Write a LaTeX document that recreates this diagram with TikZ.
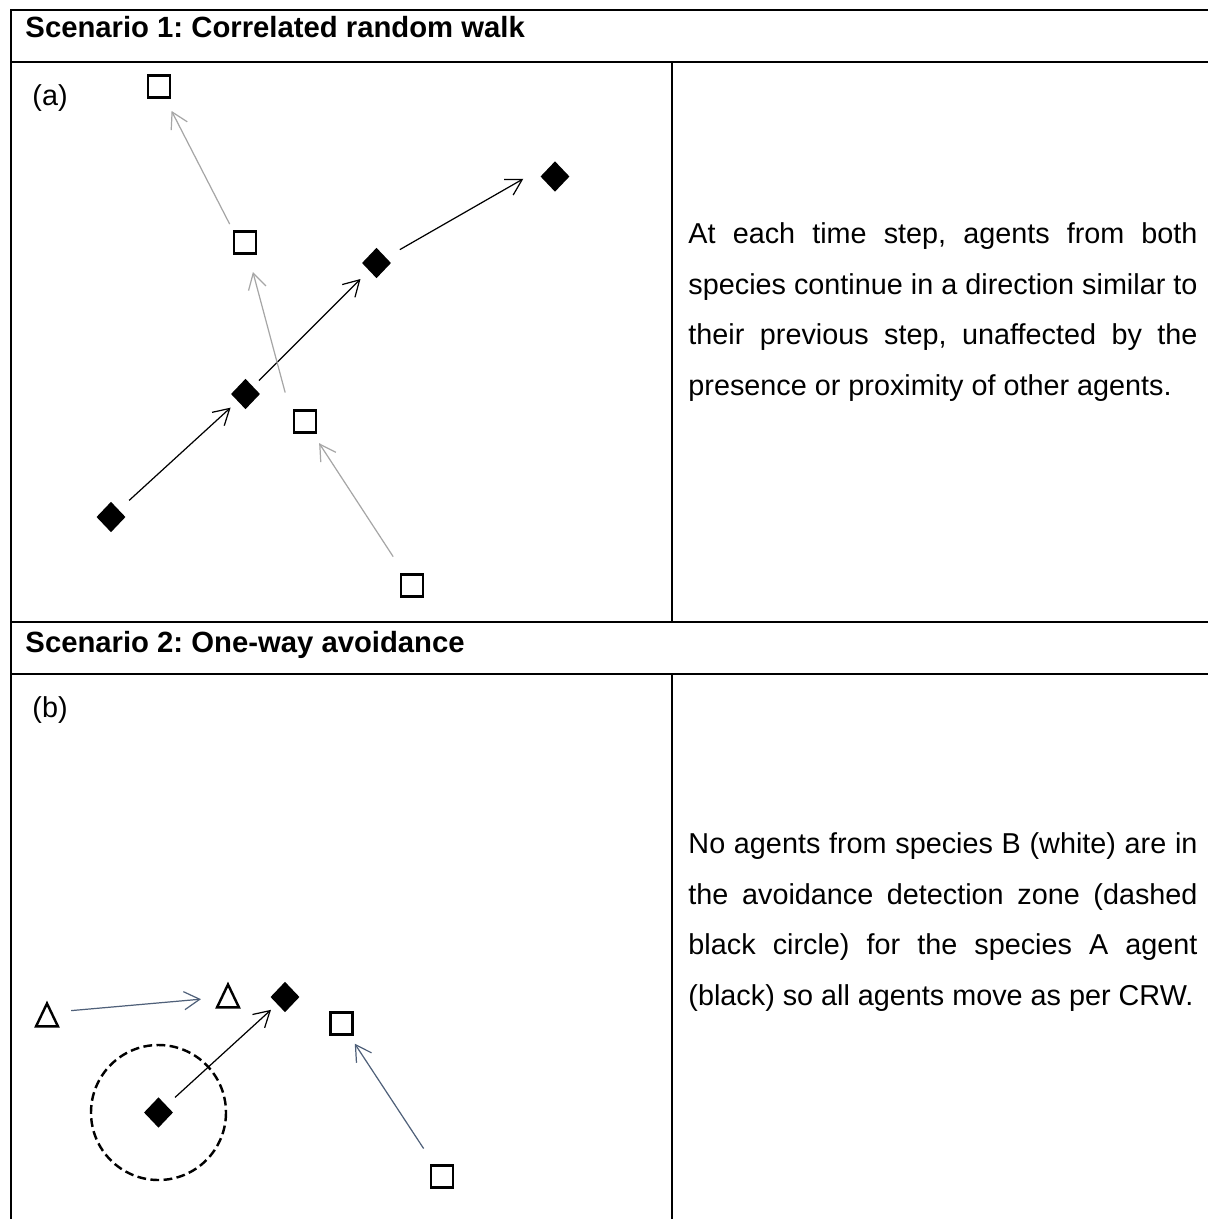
\documentclass[tikz,border=0pt]{standalone}
\usepackage{fontspec}
\setmainfont{Liberation Sans}
\usepackage{tikz}
\usetikzlibrary{arrows.meta,positioning,shapes.geometric}
\definecolor{TableInk}{gray}{0}
\definecolor{TrackGrey}{HTML}{A6A6A6}
\definecolor{TrackSlate}{HTML}{4F6079}
\frenchspacing

\begin{document}
\begin{tikzpicture}[
  x=0.41pt,y=-0.41pt,
  >={Straight Barb[length=6.4pt,width=7.4pt]},
  rule/.style={draw=TableInk,line width=0.9pt},
  headtext/.style={anchor=base west,inner sep=0pt,font=\bfseries\fontsize{12}{14}\selectfont},
  paneltag/.style={anchor=base west,inner sep=0pt,font=\fontsize{11.8}{14}\selectfont},
  bodytext/.style={anchor=base west,inner sep=0pt,text width=208.7pt,align=justify,
                   font=\fontsize{11.8}{20.8}\selectfont},
  agentA/.style={diamond,fill=black,inner sep=0pt,minimum width=12pt,minimum height=12.6pt},
  agentB/.style={draw=black,line width=1pt,inner sep=0pt,minimum size=8.9pt},
  agentC/.style={isosceles triangle,isosceles triangle stretches,shape border rotate=90,
                 draw=black,line width=1pt,inner sep=0pt,minimum width=9pt,minimum height=9.4pt},
  stepA/.style={->,black,line width=0.5pt},
  stepGrey/.style={->,TrackGrey,line width=0.5pt},
  stepSlate/.style={->,TrackSlate,line width=0.5pt},
  zone/.style={draw=black,line width=1pt,dash pattern=on 3.6pt off 1.8pt},
]
  \useasboundingbox (0,0) rectangle (1208,1219);

  % table rules
  \draw[rule] (11,1219) -- (11,10) -- (1208,10);
  \draw[rule] (11,62) -- (1208,62);
  \draw[rule] (11,622) -- (1208,622);
  \draw[rule] (11,674) -- (1208,674);
  \draw[rule] (672,62) -- (672,622);
  \draw[rule] (672,674) -- (672,1219);

  \node[headtext] (headA) at (25,37.5) {Scenario 1: Correlated random walk};
  \node[headtext] (headB) at (25,652) {Scenario 2: One-way avoidance};
  \node[paneltag] (tagA) at (32,105) {(a)};
  \node[paneltag] (tagB) at (32,717.5) {(b)};

  % panel (a)
  \foreach \name/\x/\y in {sqA1/159/86.5,sqA2/245/242.5,sqA3/305/421.5,sqA4/412/585.5}
    \node[agentB] (\name) at (\x,\y) {};
  \foreach \name/\x/\y in {dmA1/111/517,dmA2/245.5/394,dmA3/376.5/263,dmA4/555/176.5}
    \node[agentA] (\name) at (\x,\y) {};

  \draw[stepA,shorten <=5.6pt,shorten >=3.8pt] (dmA1) -- (dmA2);
  \draw[stepA,shorten <=3.3pt,shorten >=4.8pt] (dmA2) -- (dmA3);
  \draw[stepA,shorten <=6.4pt,shorten >=15pt] (dmA3) -- (dmA4.north);
  \draw[stepGrey,shorten <=8.2pt,shorten >=4.7pt] (sqA4) -- (sqA3);
  \draw[stepGrey,shorten <=12.3pt,shorten >=7.4pt] (sqA3.west) -- (sqA2);
  \draw[stepGrey,shorten <=2.9pt,shorten >=5.7pt] (sqA2.north west) -- (sqA1);

  \node[bodytext] (textA) at (688,243.3)
    {At each time step, agents from both\linebreak
     species continue in a direction similar to\linebreak
     their previous step, unaffected by the\linebreak
     presence or proximity of other agents.};

  % panel (b)
  \foreach \name/\x/\y in {trB1/47/1019.5,trB2/228/1000.5}
    \node[agentC] (\name) at (\x,\y) {};
  \foreach \name/\x/\y in {dmB1/158.5/1112.5,dmB2/285/997}
    \node[agentA] (\name) at (\x,\y) {};
  \foreach \name/\x/\y in {sqB1/341.5/1023.5,sqB2/442/1176.5}
    \node[agentB] (\name) at (\x,\y) {};

  \draw[zone] (dmB1) circle[radius=67.5];
  \draw[stepSlate,shorten <=6.2pt,shorten >=7.4pt] ([yshift=3.1pt]trB1.east) -- ([yshift=1.2pt]trB2.west);
  \draw[stepA,shorten <=4.7pt,shorten >=3.3pt] (dmB1) -- (dmB2);
  \draw[stepSlate,shorten <=7.8pt,shorten >=4pt] (sqB2) -- (sqB1);

  \node[bodytext] (textB) at (688,853.3)
    {No agents from species B (white) are in\linebreak
     the avoidance detection zone (dashed\linebreak
     black circle) for the species A agent\linebreak
     (black) so all agents move as per CRW.};
\end{tikzpicture}
\end{document}
